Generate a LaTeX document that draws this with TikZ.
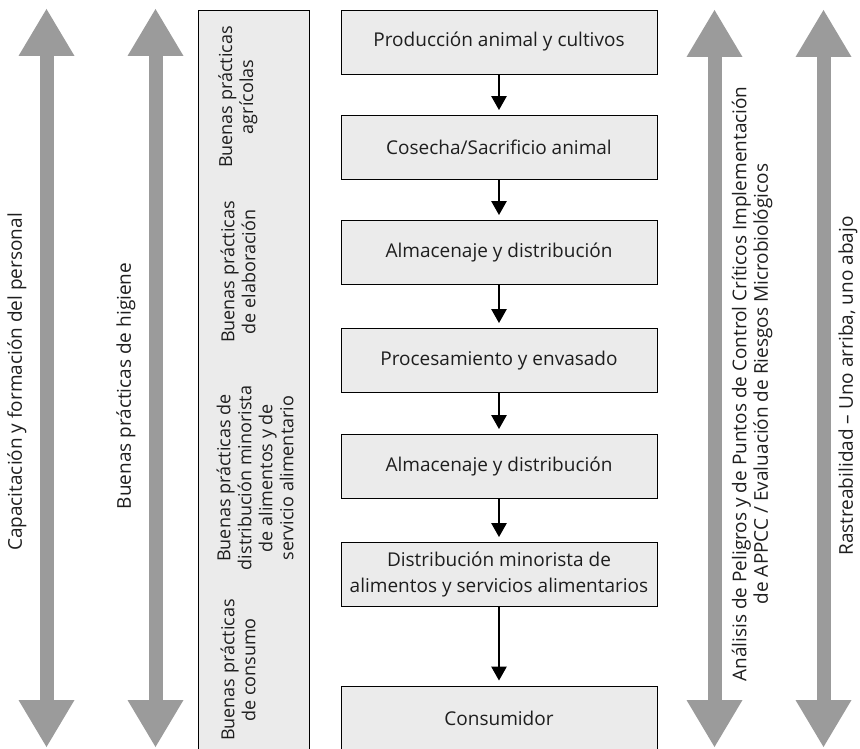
\documentclass[tikz,border=0pt]{standalone}
\usepackage{fontspec}
\setmainfont{Open Sans}
\usetikzlibrary{arrows.meta}
\definecolor{boxfill}{HTML}{EBEBEB}
\definecolor{bandgray}{HTML}{9B9B9B}
\definecolor{ink}{HTML}{1E1E1E}

\begin{document}
\begin{tikzpicture}[x=1pt,y=-1pt,
  stage/.style={draw=black, line width=0.8pt, fill=boxfill, text=ink,
    minimum width=316pt, minimum height=64pt, inner sep=0pt,
    align=center, font=\fontsize{19}{25.5}\selectfont},
  panel/.style={draw=black, line width=0.8pt, fill=boxfill,
    minimum width=111pt, minimum height=760pt, inner sep=0pt},
  flow/.style={line width=2.5pt, -{Triangle[width=15pt,length=14pt]},
    shorten >=5pt},
  band/.style={draw=bandgray, line width=14pt,
    {Triangle[width=56pt,length=47pt,line width=0pt]}-{Triangle[width=56pt,length=47pt,line width=0pt]}},
  sidelabel/.style={rotate=90, align=center, inner sep=0pt, text=ink,
    font=\fontsize{19}{21.5}\selectfont},
  panellabel/.style={sidelabel, font=\fontsize{18}{21}\selectfont},
]
\useasboundingbox (0,0) rectangle (860,749);

% column of good-practice bands
\node[panel] (practicas) at (253.5,390) {};

% supply-chain stages
\node[stage] (s1) at (499,42)    {Producción animal y cultivos};
\node[stage] (s2) at (499,147.5) {Cosecha/Sacrificio animal};
\node[stage] (s3) at (499,252.5) {Almacenaje y distribución};
\node[stage] (s4) at (499,360.5) {Procesamiento y envasado};
\node[stage] (s5) at (499,466.5) {Almacenaje y distribución};
\node[stage] (s6) at (499,574.5) {Distribución minorista de\\alimentos y servicios alimentarios};
\node[stage] (s7) at (499,718)   {Consumidor};

\foreach \a/\b in {s1/s2,s2/s3,s3/s4,s4/s5,s5/s6,s6/s7}
  \draw[flow] (\a) -- (\b);

% cross-cutting programmes, both directions
\coordinate (capTop) at (46.5,9);   \coordinate (capBot) at (46.5,747);
\coordinate (higTop) at (155.5,9);  \coordinate (higBot) at (155.5,747);
\coordinate (appTop) at (714.5,10); \coordinate (appBot) at (714.5,747);
\coordinate (rasTop) at (823.5,10); \coordinate (rasBot) at (823.5,747);
\draw[band] (capBot) -- (capTop);
\draw[band] (higBot) -- (higTop);
\draw[band] (appBot) -- (appTop);
\draw[band] (rasBot) -- (rasTop);

% labels
\node[sidelabel] (capL) at (17,382) {Capacitación y formación del personal};
\node[sidelabel] (higL) at (126,386) {Buenas prácticas de higiene};
\node[sidelabel] (appL) at (752,384) {Análisis de Peligros y de Puntos de Control Críticos Implementación\\de APPCC / Evaluación de Riesgos Microbiológicos};
\node[sidelabel] (rasL) at (848,386) {Rastreabilidad – Uno arriba, uno abajo};

\node[panellabel] (bpa) at (238,97)  {Buenas prácticas\\agrícolas};
\node[panellabel] (bpe) at (238,272) {Buenas prácticas\\de elaboración};
\node[panellabel] (bpd) at (255,478) {Buenas prácticas de\\distribución minorista\\de alimentos y de\\servicio alimentario};
\node[panellabel] (bpc) at (238,670) {Buenas prácticas\\de consumo};
\end{tikzpicture}
\end{document}
